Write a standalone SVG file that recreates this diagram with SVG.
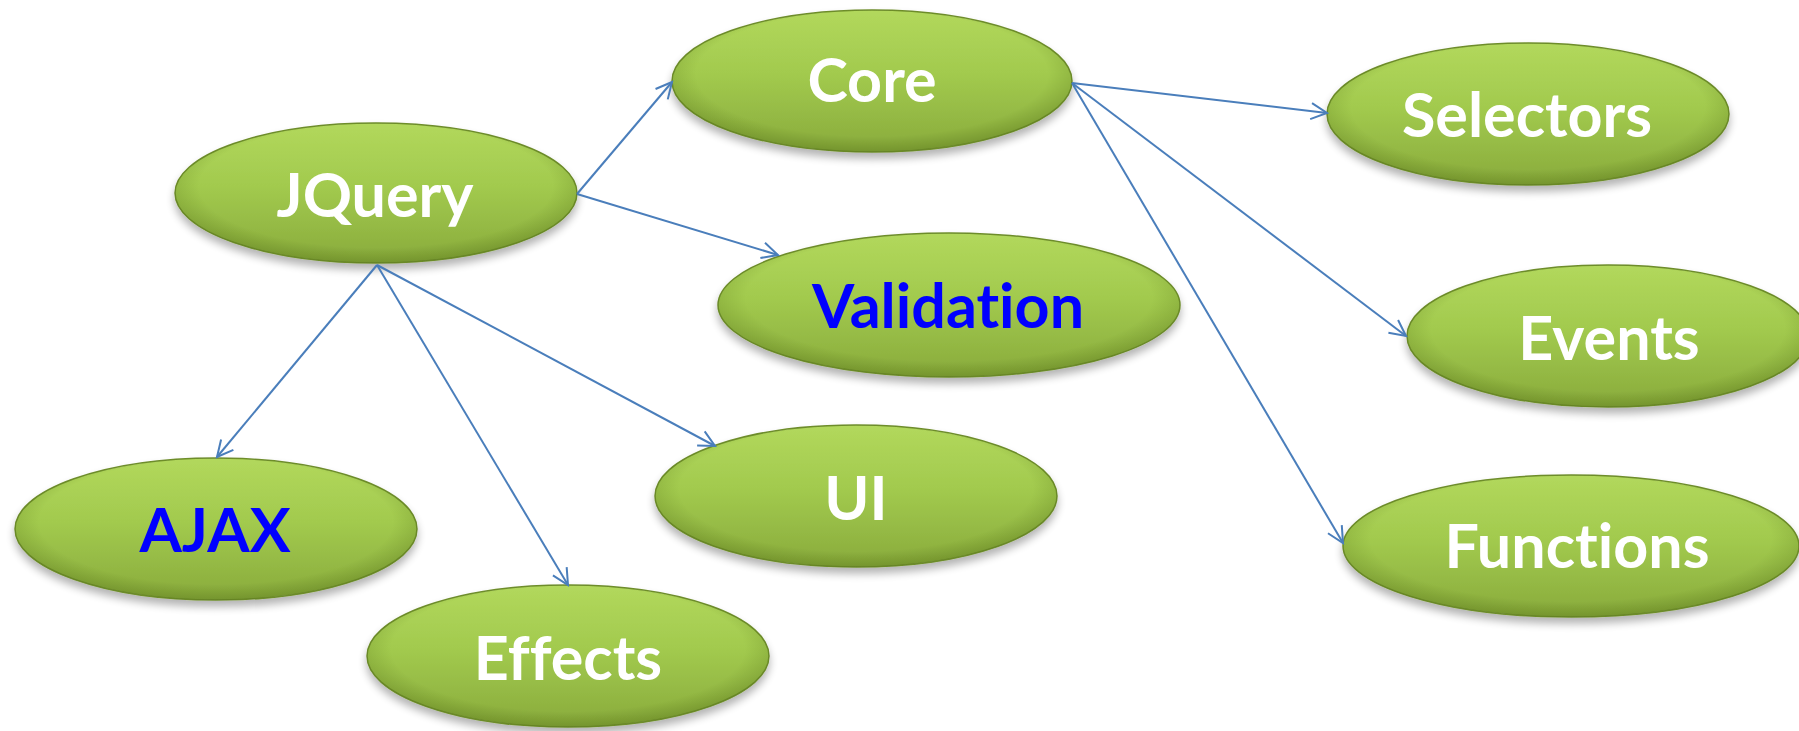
<svg xmlns="http://www.w3.org/2000/svg" width="1799" height="731" viewBox="0 0 1799 731">
<defs>
<linearGradient id="g" x1="0" y1="0" x2="0" y2="1">
<stop offset="0" stop-color="#b2d85c"/>
<stop offset="0.45" stop-color="#a2ca4e"/>
<stop offset="1" stop-color="#89ab3c"/>
</linearGradient>
<radialGradient id="edge" cx="0.5" cy="0.45" r="0.55">
<stop offset="0.8" stop-color="#4d6a12" stop-opacity="0"/>
<stop offset="1" stop-color="#4d6a12" stop-opacity="0.35"/>
</radialGradient>
<filter id="sh" x="-10%" y="-20%" width="120%" height="150%">
<feGaussianBlur in="SourceAlpha" stdDeviation="4"/>
<feOffset dy="6" result="o"/>
<feComponentTransfer><feFuncA type="linear" slope="0.3"/></feComponentTransfer>
<feMerge><feMergeNode/><feMergeNode in="SourceGraphic"/></feMerge>
</filter>
<marker id="arr" viewBox="-18 -10 21 20" refX="0" refY="0" markerWidth="21" markerHeight="20" markerUnits="userSpaceOnUse" orient="auto">
<path d="M-16,-8 L0,0 L-16,8" fill="none" stroke="#4a7ebb" stroke-width="2"/>
</marker>
</defs>
<style>
.body{fill:url(#g);stroke:#6e8d2c;stroke-width:1.5;filter:url(#sh)}
.bev{fill:url(#edge);stroke:none}
.t{font-family:Lato,"Open Sans","Liberation Sans",sans-serif;font-weight:700;font-size:61px;text-anchor:middle;font-variant-ligatures:none;font-feature-settings:"liga" 0,"clig" 0}
.w{fill:#ffffff}
.b{fill:#0000ff}
.c{fill:none;stroke:#4a7ebb;stroke-width:2;marker-end:url(#arr)}
</style>
<rect width="1799" height="731" fill="#ffffff"/>

<g id="node-jquery">
<ellipse class="body" cx="376" cy="193" rx="201" ry="70"/>
<ellipse class="bev" cx="376" cy="193" rx="201" ry="70"/>
<text class="t w" x="375" y="217">JQuery</text>
</g>
<g id="node-core">
<ellipse class="body" cx="872" cy="81" rx="200" ry="71"/>
<ellipse class="bev" cx="872" cy="81" rx="200" ry="71"/>
<text class="t w" x="872" y="102">Core</text>
</g>
<g id="node-validation">
<ellipse class="body" cx="949" cy="305" rx="231" ry="72"/>
<ellipse class="bev" cx="949" cy="305" rx="231" ry="72"/>
<text class="t b" x="948" y="328">Validation</text>
</g>
<g id="node-selectors">
<ellipse class="body" cx="1528" cy="114" rx="201" ry="71"/>
<ellipse class="bev" cx="1528" cy="114" rx="201" ry="71"/>
<text class="t w" x="1527" y="137">Selectors</text>
</g>
<g id="node-events">
<ellipse class="body" cx="1608" cy="336" rx="201" ry="71"/>
<ellipse class="bev" cx="1608" cy="336" rx="201" ry="71"/>
<text class="t w" x="1609" y="360">Events</text>
</g>
<g id="node-functions">
<ellipse class="body" cx="1571" cy="546" rx="228" ry="71"/>
<ellipse class="bev" cx="1571" cy="546" rx="228" ry="71"/>
<text class="t w" x="1577" y="568">Functions</text>
</g>
<g id="node-ajax">
<ellipse class="body" cx="216" cy="529" rx="201" ry="71"/>
<ellipse class="bev" cx="216" cy="529" rx="201" ry="71"/>
<text class="t b" x="215" y="552">AJAX</text>
</g>
<g id="node-ui">
<ellipse class="body" cx="856" cy="496" rx="201" ry="71"/>
<ellipse class="bev" cx="856" cy="496" rx="201" ry="71"/>
<text class="t w" x="856" y="520">UI</text>
</g>
<g id="node-effects">
<ellipse class="body" cx="568" cy="656" rx="201" ry="71"/>
<ellipse class="bev" cx="568" cy="656" rx="201" ry="71"/>
<text class="t w" x="568" y="680">Effects</text>
</g>

<g id="connectors">
<line class="c" x1="577" y1="194" x2="672" y2="82"/>
<line class="c" x1="577" y1="194" x2="778" y2="255"/>
<line class="c" x1="377" y1="265" x2="217" y2="457"/>
<line class="c" x1="377" y1="265" x2="568" y2="585"/>
<line class="c" x1="377" y1="265" x2="715" y2="446"/>
<line class="c" x1="1072" y1="83" x2="1327" y2="113"/>
<line class="c" x1="1072" y1="83" x2="1406" y2="336"/>
<line class="c" x1="1072" y1="83" x2="1343" y2="543"/>
</g>
</svg>
